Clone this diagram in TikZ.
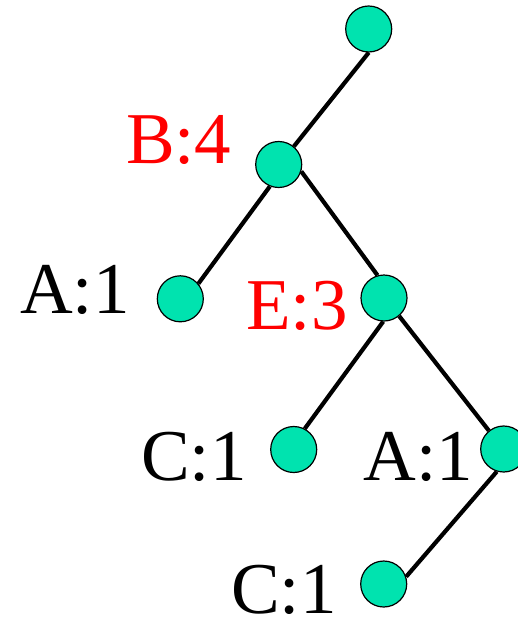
\documentclass[tikz,border=0pt]{standalone}
\usepackage{fontspec}
\setmainfont{Liberation Serif}
\definecolor{nodegreen}{RGB}{0,227,175}
\begin{document}
\begin{tikzpicture}[x=1pt,y=-1pt,
  tn/.style={circle,draw=black,line width=1.2pt,fill=nodegreen,minimum size=46pt,inner sep=0pt},
  lbl/.style={anchor=base west,inner sep=0pt,text depth=0pt,font=\fontsize{73}{78}\selectfont},
  red lbl/.style={lbl,text=red},
  edge/.style={line width=4.2pt}]
\useasboundingbox (0,0) rectangle (517,618);
\node[tn] (root) at (368.7,29) {};
\node[tn] (B) at (278.7,164.5) {};
\node[tn] (A1) at (180.3,298.8) {};
\node[tn] (E) at (384,298) {};
\node[tn] (C1) at (293.7,449.5) {};
\node[tn] (A2) at (503.7,449) {};
\node[tn] (C2) at (383.7,584) {};
\draw[edge] (root.270) -- (B.50);
\draw[edge] (B.248) -- (A1.40);
\draw[edge] (B.343) -- (E.106);
\draw[edge] (E.268) -- (C1.62);
\draw[edge] (E.310) -- (A2.129);
\draw[edge] (A2.253) -- (C2.18);
\node[red lbl] (lB) at (125.8,163.3) {B:4};
\node[lbl] (lA1) at (20,313.3) {A:1};
\node[red lbl] (lE) at (246,329.3) {E:3};
\node[lbl] (lC1) at (141,480) {C:1};
\node[lbl] (lA2) at (363.3,480) {A:1};
\node[lbl] (lC2) at (231,613.3) {C:1};
\end{tikzpicture}
\end{document}
